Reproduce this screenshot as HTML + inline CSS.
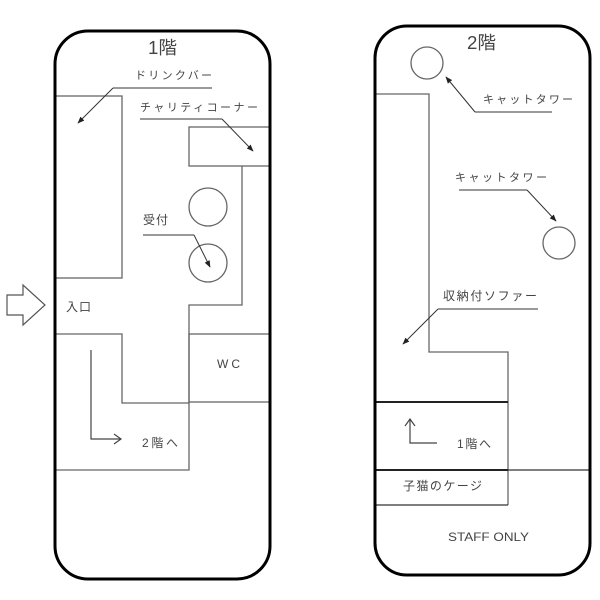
<!DOCTYPE html>
<html><head><meta charset="utf-8"><style>
html,body{margin:0;padding:0;background:#fff;}
svg{display:block;}
text{font-family:"Liberation Sans","Noto Sans CJK JP",sans-serif;fill:#444;}
</style></head><body>
<svg width="600" height="600" viewBox="0 0 600 600" xmlns="http://www.w3.org/2000/svg">
<defs>
<marker id="ah" viewBox="0 0 10 10" refX="9" refY="5" markerWidth="7" markerHeight="7" orient="auto" markerUnits="userSpaceOnUse">
<path d="M0,1 L10,5 L0,9 z" fill="#222"/>
</marker>
</defs>
<rect x="0" y="0" width="600" height="600" fill="#fff"/>

<!-- LEFT PANEL -->
<g fill="none" stroke="#666" stroke-width="1.3">
  <rect x="55" y="96" width="67" height="182"/>
  <rect x="189" y="127" width="81" height="39"/>
  <polyline points="242,166 242,305 189,305 189,470 55,470"/>
  <polyline points="55,334 122,334 122,403 189,403"/>
  <rect x="189" y="334" width="81" height="68"/>
  <circle cx="208" cy="207" r="19"/>
  <circle cx="208" cy="263" r="19"/>
</g>
<!-- leader lines -->
<g fill="none" stroke="#333" stroke-width="1">
  <line x1="212" y1="88" x2="113" y2="88"/>
  <line x1="113" y1="88" x2="78" y2="123" marker-end="url(#ah)"/>
  <line x1="140" y1="119" x2="222" y2="119"/>
  <line x1="222" y1="119" x2="253" y2="151" marker-end="url(#ah)"/>
  <line x1="143" y1="235" x2="194" y2="235"/>
  <line x1="194" y1="235" x2="210" y2="267" marker-end="url(#ah)"/>
</g>
<!-- stairs arrow -->
<g fill="none" stroke="#444" stroke-width="1.2">
  <polyline points="91,350 91,439 121,439"/>
  <polyline points="114,434 121,439 114,444"/>
</g>
<!-- entrance arrow -->
<path d="M7,295 L23,295 L23,285 L45,305 L23,325 L23,315 L7,315 Z" fill="#fff" stroke="#555" stroke-width="1.2"/>
<rect x="55" y="31" width="215" height="548" rx="33" ry="33" fill="none" stroke="#000" stroke-width="3"/>

<text x="148" y="54" font-size="18" textLength="29" lengthAdjust="spacingAndGlyphs">1階</text>
<text x="135" y="79" font-size="11" textLength="77" lengthAdjust="spacing">ドリンクバー</text>
<text x="140" y="111" font-size="11" textLength="118" lengthAdjust="spacing">チャリティコーナー</text>
<text x="143" y="224" font-size="12" textLength="25" lengthAdjust="spacing">受付</text>
<text x="66" y="311" font-size="12" textLength="25" lengthAdjust="spacing">入口</text>
<text x="217" y="368" font-size="12" textLength="23" lengthAdjust="spacing">WC</text>
<text x="142" y="447" font-size="12" textLength="36" lengthAdjust="spacing">2階へ</text>

<!-- RIGHT PANEL -->
<g fill="none" stroke="#666" stroke-width="1.3">
  <polyline points="375,94 429,94 429,352 508,352 508,505"/>
  <line x1="375" y1="505" x2="508" y2="505" stroke="#333"/>
  <line x1="508" y1="470" x2="590" y2="470" stroke="#333"/>
  <circle cx="427" cy="63" r="16"/>
  <circle cx="559" cy="243" r="16"/>
</g>
<g fill="none" stroke="#222" stroke-width="2">
  <line x1="375" y1="402" x2="508" y2="402"/>
  <line x1="375" y1="470" x2="508" y2="470"/>
</g>
<g fill="none" stroke="#333" stroke-width="1">
  <line x1="552" y1="112" x2="475" y2="112"/>
  <line x1="475" y1="112" x2="446" y2="77" marker-end="url(#ah)"/>
  <line x1="459" y1="190" x2="527" y2="190"/>
  <line x1="527" y1="190" x2="556" y2="221" marker-end="url(#ah)"/>
  <line x1="538" y1="309" x2="438" y2="309"/>
  <line x1="438" y1="309" x2="403" y2="344" marker-end="url(#ah)"/>
</g>
<g fill="none" stroke="#444" stroke-width="1.2">
  <polyline points="437,443 410,443 410,419"/>
  <polyline points="405,426 410,419 415,426"/>
</g>
<rect x="375" y="26" width="215" height="549" rx="32" ry="32" fill="none" stroke="#000" stroke-width="3"/>

<text x="467" y="49" font-size="18" textLength="29" lengthAdjust="spacingAndGlyphs">2階</text>
<text x="483" y="103" font-size="11" textLength="90" lengthAdjust="spacing">キャットタワー</text>
<text x="455" y="181" font-size="11" textLength="92" lengthAdjust="spacing">キャットタワー</text>
<text x="443" y="300" font-size="12" textLength="94" lengthAdjust="spacing">収納付ソファー</text>
<text x="457" y="448" font-size="12" textLength="34" lengthAdjust="spacing">1階へ</text>
<text x="403" y="490" font-size="12" textLength="79" lengthAdjust="spacing">子猫のケージ</text>
<text x="448" y="541" font-size="12" textLength="81" lengthAdjust="spacingAndGlyphs">STAFF ONLY</text>
</svg>
</body></html>
